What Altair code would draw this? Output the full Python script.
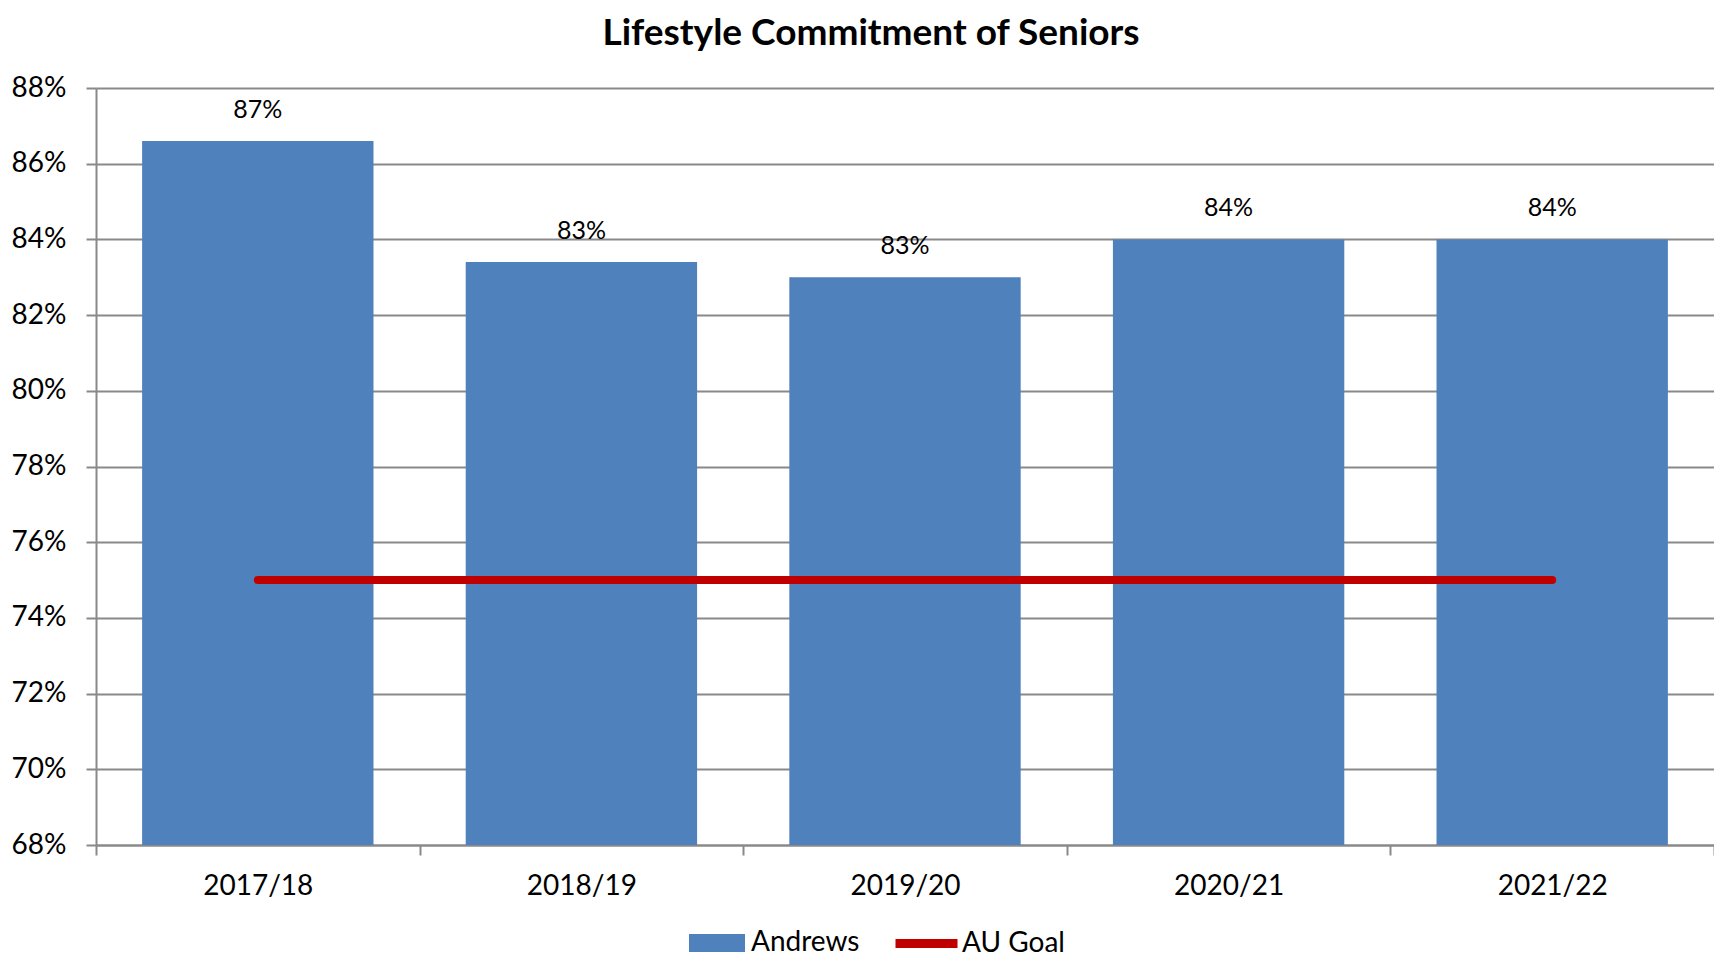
import altair as alt
import pandas as pd

years = ["2017/18", "2018/19", "2019/20", "2020/21", "2021/22"]
andrews = [0.866, 0.834, 0.830, 0.840, 0.840]
goal = [0.75, 0.75, 0.75, 0.75, 0.75]
y_ticks = [0.68, 0.70, 0.72, 0.74, 0.76, 0.78, 0.80, 0.82, 0.84, 0.86, 0.88]

df = pd.DataFrame({
    "year": years,
    "andrews": andrews,
    "goal": goal,
    "s1": ["Andrews"] * len(years),
    "s2": ["AU Goal"] * len(years),
})

FONT = "Lato"
GRID = "#898989"
BLUE = "#4F81BD"
RED = "#C00000"

x_enc = alt.X(
    "year:N", sort=years,
    scale=alt.Scale(paddingInner=0, paddingOuter=0),
    axis=alt.Axis(title=None, labelAngle=0, labelFontSize=28, labelFont=FONT,
                  labelColor="black", labelPadding=17, tickBand="extent",
                  tickSize=10, tickColor=GRID, tickWidth=2,
                  domainColor=GRID, domainWidth=2, grid=False),
)
y_scale = alt.Scale(domain=[0.68, 0.88], nice=False, zero=False)
y_axis = alt.Axis(title=None, values=y_ticks, format=".0%", labelFontSize=28,
                  labelFont=FONT, labelColor="black", labelPadding=20,
                  tickSize=10, tickColor=GRID, tickWidth=2,
                  domainColor=GRID, domainWidth=2,
                  grid=True, gridColor=GRID, gridWidth=2)

bars = alt.Chart(df).mark_bar(width=alt.RelativeBandSize(0.715)).encode(
    x=x_enc,
    y=alt.Y("andrews:Q", scale=y_scale, axis=y_axis),
    y2=alt.datum(0.68),
    fill=alt.Fill("s1:N", scale=alt.Scale(domain=["Andrews"], range=[BLUE]),
                  legend=alt.Legend(orient="none", legendX=607, legendY=841,
                                    title=None, symbolType="M-2,-0.64H2V0.64H-2Z",
                                    symbolSize=784, symbolStrokeWidth=0,
                                    labelFontSize=28, labelFont=FONT,
                                    labelColor="black", labelOffset=20)),
)

labels = alt.Chart(df).mark_text(dy=-31, fontSize=25, font=FONT, color="black").encode(
    x=x_enc,
    y=alt.Y("andrews:Q", scale=y_scale, axis=y_axis),
    text=alt.Text("andrews:Q", format=".0%"),
)

line = alt.Chart(df).mark_line(strokeWidth=8, strokeCap="round").encode(
    x=x_enc,
    y=alt.Y("goal:Q", scale=y_scale, axis=y_axis),
    stroke=alt.Stroke("s2:N", scale=alt.Scale(domain=["AU Goal"], range=[RED]),
                      legend=alt.Legend(orient="none", legendX=795, legendY=820,
                                        title=None, symbolType="stroke",
                                        symbolSize=3844, symbolStrokeWidth=9,
                                        labelFontSize=28, labelFont=FONT,
                                        labelColor="black", labelOffset=0)),
)

chart = alt.layer(bars, line, labels).resolve_scale(
    fill="independent", stroke="independent"
).properties(
    width=1618,
    height=757,
    autosize="none",
    padding={"left": 88, "top": 80, "right": 0, "bottom": 112},
    title=alt.Title("Lifestyle Commitment of Seniors", fontSize=37, fontWeight="bold",
                    font=FONT, color="black", anchor="middle", dx=-34,
                    baseline="middle", offset=3),
).configure(font=FONT).configure_view(stroke=None)

chart.save("out.html", embed_options={"renderer": "svg", "actions": False})
